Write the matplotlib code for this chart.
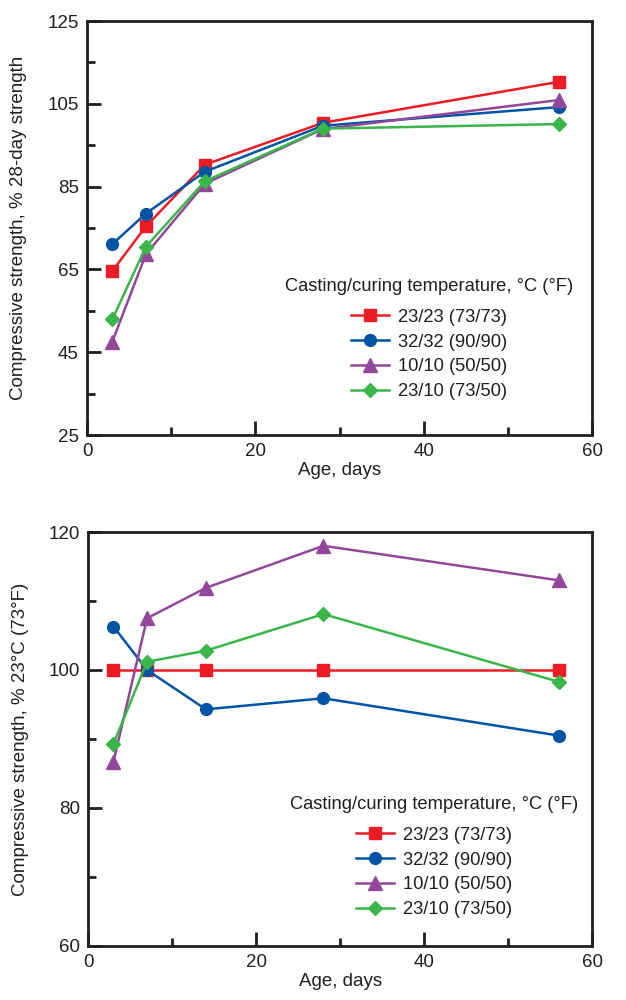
#!/usr/bin/env python3

import matplotlib.pyplot as plt
from matplotlib.ticker import FixedLocator

plt.rcParams['font.family'] = ['Liberation Sans', 'DejaVu Sans']

age = [3, 7, 14, 28, 56]
labels = ['23/23 (73/73)', '32/32 (90/90)', '10/10 (50/50)', '23/10 (73/50)']
colors = ['#ed1c24', '#0054a6', '#92479a', '#3ab54a']
markers = ['s', 'o', '^', 'D']
msizes = [9, 8.5, 9.5, 7.5]

# top: % of 28-day strength
pct_28day = [
    [64.6, 75.4, 90.3, 100.4, 110.3],
    [71.1, 78.5, 88.6, 99.7, 104.2],
    [47.5, 68.7, 85.7, 98.9, 105.9],
    [52.9, 70.5, 86.3, 99.0, 100.1],
]
# bottom: % of 23C strength
pct_23c = [
    [100, 100, 100, 100, 100],
    [106.3, 100.0, 94.3, 95.9, 90.5],
    [86.7, 107.5, 111.9, 118.0, 113.0],
    [89.3, 101.2, 102.8, 108.1, 98.3],
]

edge = '#231f20'
fs = 13.5
lfs = 13.2

fig = plt.figure(figsize=(6.26, 10), dpi=100)
ax1 = fig.add_axes([0.139, 0.565, 0.807, 0.414])
ax2 = fig.add_axes([0.141, 0.054, 0.805, 0.414])


def style(ax, ylo, yhi, ymajor, yminor, ylabel, leg_xy):
    ax.set_xlim(0, 60)
    ax.set_ylim(ylo, yhi)
    ax.xaxis.set_major_locator(FixedLocator([0, 20, 40, 60]))
    ax.xaxis.set_minor_locator(FixedLocator([10, 30, 50]))
    ax.yaxis.set_major_locator(FixedLocator(ymajor))
    ax.yaxis.set_minor_locator(FixedLocator(yminor))
    for s in ax.spines.values():
        s.set_linewidth(2)
        s.set_color(edge)
    ax.tick_params(which='both', direction='in', color=edge, width=2,
                   labelsize=fs, labelcolor=edge, pad=6)
    ax.tick_params(which='major', length=10)
    ax.tick_params(which='minor', length=5.5)
    ax.set_xlabel('Age, days', fontsize=fs, color=edge, labelpad=1)
    ax.set_ylabel(ylabel, fontsize=fs, color=edge)
    ax.yaxis.set_label_coords(-0.118, 0.5)
    leg = ax.legend(loc='center', bbox_to_anchor=leg_xy, frameon=False,
                    title='Casting/curing temperature, °C (°F)',
                    fontsize=lfs, title_fontsize=lfs, handlelength=2.1,
                    handletextpad=0.5, labelspacing=0.42)
    leg._legend_box.sep = 10  # extra gap under the title
    for t in leg.get_texts():
        t.set_color(edge)
    leg.get_title().set_color(edge)


for vals, lab, c, m, ms in zip(pct_28day, labels, colors, markers, msizes):
    ax1.plot(age, vals, color=c, marker=m, markersize=ms, lw=1.8, label=lab,
             clip_on=False)
style(ax1, 25, 125, [25, 45, 65, 85, 105, 125], [35, 55, 75, 95, 115],
      'Compressive strength, % 28-day strength', (0.677, 0.232))

for vals, lab, c, m, ms in zip(pct_23c, labels, colors, markers, msizes):
    ax2.plot(age, vals, color=c, marker=m, markersize=ms, lw=1.8, label=lab,
             clip_on=False)
style(ax2, 60, 120, [60, 80, 100, 120], [70, 90, 110],
      'Compressive strength, % 23°C (73°F)', (0.686, 0.215))

fig.savefig('out.png', dpi=100)
